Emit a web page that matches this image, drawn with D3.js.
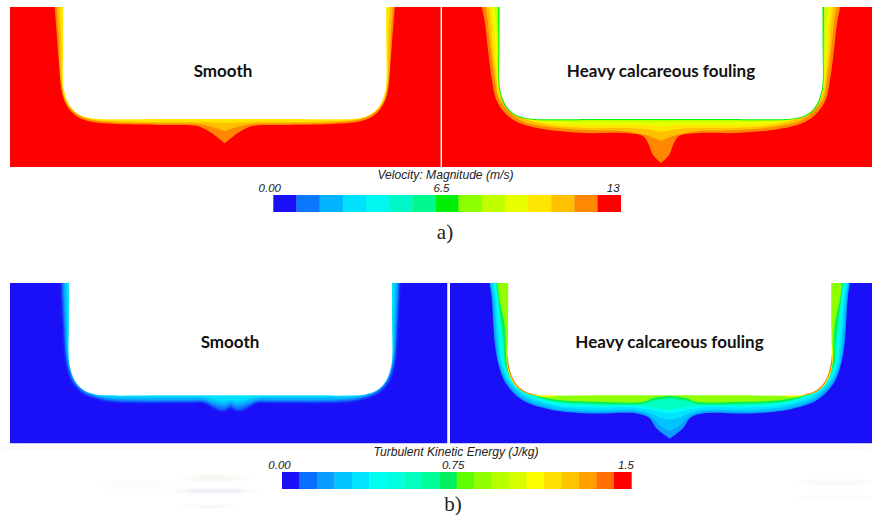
<!DOCTYPE html>
<html>
<head>
<meta charset="utf-8">
<script src="https://cdn.jsdelivr.net/npm/d3@7"></script>
<style>
  html, body { margin: 0; padding: 0; background: #fff; }
  svg { display: block; }
  .legend-title, .legend-tick { font-family: "Liberation Sans", sans-serif; font-style: italic; fill: #222; }
  .case-label { font-family: Lato, sans-serif; font-weight: 700; fill: #111; }
  .part-label { font-family: "Liberation Serif", serif; fill: #222; }
</style>
</head>
<body>
<div id="chart"></div>
<script>
// Legend colours, one per contour band
const velocityColors = ["#1a10f8", "#0a78ff", "#00b4ff", "#00e0ff", "#00f8f0", "#00f8c8", "#00f890", "#00ee08",
                        "#8cff00", "#c0ff00", "#e8ff00", "#ffe600", "#ffc000", "#ff8800", "#ff0000"];
const tkeColors = ["#1a10f8", "#0a6eff", "#0a9cff", "#00c4ff", "#00e4ff", "#00fff0", "#00ffe0", "#00ffc0", "#00ff9a", "#00f060",
                   "#5cff00", "#90ff00", "#b8ff00", "#d8ff00", "#ffff00", "#ffe000", "#ffc400", "#ffa000", "#ff7000", "#ff0000"];

const velocityDomain = [0, 13];
const tkeDomain = [0, 1.5];
const velocityTicks = [0, 6.5, 13];
const tkeTicks = [0, 0.75, 1.5];
const velocityTickLabels = ["0.00", "6.5", "13"];
const tkeTickLabels = ["0.00", "0.75", "1.5"];

const caseNames = ["Smooth", "Heavy calcareous fouling"];

// Half sections: [distance from centreline, depth below the top of the field]
const hullProfile = [[161.5, 0], [161.6, 40], [161.8, 72], [160.5, 84], [156.4, 96], [151.4, 103], [144.7, 108], [136, 110.8], [126, 112], [60, 112], [0, 112]];

// a) velocity, smooth
const smoothVelocityLevels = [11.7, 10.8, 10.0];
const smoothVelocityContours = [
  [[170, 0], [169, 13], [167, 40], [165.4, 60], [164, 78], [161, 92], [155, 103], [147, 110], [135, 114.5], [108, 117], [58, 118], [28, 119], [15, 124.7], [5, 132.3], [0, 136.3]],
  [[168, 0], [166, 30], [165, 60], [163, 78], [160, 90], [153, 102], [145, 108.5], [133, 113], [108, 115.5], [58, 116.5], [28, 117], [14, 119.5], [0, 124]],
  [[165, 0], [163.5, 30], [163, 72], [161.5, 86], [158, 96], [152, 103.5], [145, 108.5], [135, 112], [100, 114.5], [30, 115], [0, 116]]
];

// a) velocity, heavy calcareous fouling
const foulingVelocityLevels = [11.7, 10.8, 10.0, 9.1, 8.2, 6.5];
const foulingVelocityContours = [
  [[179, 0], [176, 16], [173, 43], [169, 73], [165, 92], [157, 105], [144, 115], [118, 122], [75, 126], [38, 126], [18, 129], [13, 136], [8, 148], [0, 156]],
  [[175, 0], [173, 16], [170, 43], [166, 73], [163, 90], [154, 103], [139, 114], [112, 120], [75, 123], [38, 124], [25, 126], [12, 129], [0, 134]],
  [[172, 0], [170, 16], [168, 43], [164.5, 73], [162, 88], [152, 102], [136, 112], [112, 118], [75, 121], [38, 121], [18, 122], [0, 125]],
  [[169, 0], [167, 20], [165, 50], [163.5, 75], [160, 90], [151, 101.5], [135, 111], [112, 116], [75, 118], [20, 118], [0, 120]],
  [[166, 0], [164, 30], [163, 72], [161, 86], [156, 97.5], [149, 104], [138, 109.5], [122, 113], [75, 114.5], [0, 115]],
  [[163, 0], [162.6, 40], [162.6, 72], [161.4, 84.5], [157.4, 96.5], [152.2, 103.7], [145.4, 108.7], [136.6, 111.6], [126, 112.9], [60, 112.9], [0, 112.9]]
];

// b) turbulent kinetic energy, smooth
const smoothTkeLevels = [0.1125, 0.1875, 0.2625, 0.3375];
const smoothTkeContours = [
  [[169, 0], [167, 42], [165, 72], [162, 88], [157, 100], [147, 110], [136, 114.5], [120, 118], [44, 119], [27, 119], [17, 124], [9, 127], [4, 126], [0, 123]],
  [[167.5, 0], [165.5, 42], [164, 72], [161, 87], [156, 99], [146, 108.5], [134, 113], [117, 116.5], [44, 117.5], [27, 117.5], [17, 121], [6, 123.5], [0, 120]],
  [[166, 0], [164.5, 42], [163.2, 72], [160, 86], [155, 98], [146, 107], [133, 112.5], [117, 114.8], [44, 115.5], [27, 115.5], [16, 119], [5, 121], [0, 118]],
  [[164, 0], [163, 42], [162.5, 72], [160, 85], [155.5, 96.5], [148, 105], [138, 110.5], [122, 113], [30, 113.6], [17, 116], [5, 118], [0, 116]]
];

// b) turbulent kinetic energy, heavy calcareous fouling
const foulingTkeLevels = [0.1875, 0.2625, 0.3375, 0.4125, 0.5625, 0.7125, 0.8625, 1.0875, 1.3, 1.3875];
const foulingTkeContours = [
  [[180, 0], [178, 15], [175, 59], [171, 82], [164, 100], [147, 117], [120, 126], [80, 130], [33, 130], [21, 134], [13, 145], [0, 155]],
  [[179, 0], [177, 15], [173.5, 59], [170, 82], [162, 100], [145, 116], [118, 125], [80, 128.5], [33, 128.5], [21, 132], [10, 142], [0, 148]],
  [[178, 0], [175.5, 15], [172, 59], [168.5, 82], [160, 100], [142, 115], [115, 123], [76, 126.5], [33, 126.5], [21, 129], [10, 134], [0, 136]],
  [[176, 0], [174, 15], [170, 59], [167, 82], [158, 100], [140, 114], [113, 121.5], [73, 124], [33, 124], [21, 126], [0, 130]],
  [[174, 0], [172, 15], [168, 59], [165.5, 82], [156, 100], [137, 113], [113, 119.5], [73, 122], [30, 122], [16, 124], [0, 126]],
  [[173, 0], [171.5, 15], [166, 59], [164, 82], [155, 99], [135, 112.5], [113, 118.5], [73, 120.5], [28, 120.5], [17, 117.5], [0, 115]],
  [[172, 0], [170.5, 15], [165, 42], [163.5, 70], [162, 84], [154, 99], [136, 111], [113, 116.5], [73, 118.5], [26, 118.5], [17, 115], [0, 112.5]],
  [[158, 40], [163, 68], [162, 85], [158, 97], [151, 105.5], [141, 110.5], [125, 113.5], [113, 112.5], [100, 106], [0, 100]],
  [[158, 66], [162.5, 74], [161.4, 85], [157.4, 96.8], [152.2, 104], [145.4, 109], [134, 112], [122, 108], [100, 102], [0, 100]],
  [[158, 74], [162, 78], [161, 85], [157, 96.4], [151.9, 103.5], [145.2, 108.5], [137, 110.5], [125, 104], [0, 100]]
];

// Scan residue under the lower row of the source image, not data
const residueBoxes = [[0, 445, 872, 5, "#fbf8f6"], [185, 489, 60, 4, "#efeaf3"], [190, 475, 48, 6, "#f8f6f1"], [190, 505, 40, 3, "#f9f6f0"],
                      [105, 480, 60, 9, "#fcfbfa"], [800, 480, 72, 5, "#faf9f7"], [805, 496, 67, 3, "#f9f8fb"]];

const width = 872, height = 515;

const svg = d3.select("#chart").append("svg")
    .attr("width", width)
    .attr("height", height);

const defs = svg.append("defs");

// The source is a soft, resampled screenshot
[["soft", "0.5"], ["medium", "0.7"], ["softer", "0.9"], ["smear", "10 1.2"]].forEach(d => {
    defs.append("filter")
        .attr("id", d[0])
        .attr("filterUnits", "userSpaceOnUse")
        .attr("x", 0).attr("y", 0)
        .attr("width", width).attr("height", height)
        .append("feGaussianBlur")
        .attr("stdDeviation", d[1]);
});

svg.append("g")
    .attr("filter", "url(#smear)")
    .selectAll("rect")
    .data(residueBoxes)
    .enter()
    .append("rect")
    .attr("x", d => d[0])
    .attr("y", d => d[1])
    .attr("width", d => d[2])
    .attr("height", d => d[3])
    .attr("fill", d => d[4]);

const velocityScale = d3.scaleQuantize().domain(velocityDomain).range(velocityColors);
const tkeScale = d3.scaleQuantize().domain(tkeDomain).range(tkeColors);

// Mirror a half section into a full outline, left side first
const outline = profile => {
    const left = profile.map(p => [-p[0], p[1]]);
    const right = profile.slice().reverse();
    return [[left[0][0], left[0][1] - 8], ...left, ...right, [right[right.length - 1][0], right[right.length - 1][1] - 8]];
};

function drawField(o) {
    const x = d3.scaleLinear().domain([-200, 200]).range([o.centre - 200, o.centre + 200]);
    const y = d3.scaleLinear().domain([0, 160]).range([o.top, o.bottom]);

    const line = d3.line()
        .x(d => x(d[0]))
        .y(d => y(d[1]))
        .curve(d3.curveCatmullRom.alpha(0.5));

    const clipId = "clip-" + o.id;
    defs.append("clipPath").attr("id", clipId)
        .append("rect")
        .attr("x", o.left)
        .attr("y", o.top)
        .attr("width", o.right - o.left)
        .attr("height", o.bottom - o.top);

    const g = svg.append("g").attr("clip-path", `url(#${clipId})`);

    g.append("rect")
        .attr("x", o.left)
        .attr("y", o.top)
        .attr("width", o.right - o.left)
        .attr("height", o.bottom - o.top)
        .attr("fill", o.color(o.background));

    g.append("g")
        .attr("filter", `url(#${o.blur})`)
        .selectAll("path")
        .data(o.contours)
        .enter()
        .append("path")
        .attr("d", d => line(outline(d)))
        .attr("fill", (d, i) => o.color(o.levels[i]));

    g.append("path")
        .attr("d", line(outline(hullProfile)))
        .attr("fill", "#fff")
        .attr("filter", "url(#soft)");

    svg.append("text")
        .attr("class", "case-label")
        .attr("x", o.labelX)
        .attr("y", o.labelY)
        .attr("text-anchor", "middle")
        .attr("font-size", 17)
        .text(o.label);
}

drawField({id: "a1", left: 10, right: 441, top: 7, bottom: 167, centre: 224.7, color: velocityScale, background: 12.8,
           levels: smoothVelocityLevels, contours: smoothVelocityContours, blur: "soft", label: caseNames[0], labelX: 223, labelY: 76.5});
drawField({id: "a2", left: 442, right: 872, top: 7, bottom: 167, centre: 661, color: velocityScale, background: 12.8,
           levels: foulingVelocityLevels, contours: foulingVelocityContours, blur: "soft", label: caseNames[1], labelX: 661, labelY: 76.5});
drawField({id: "b1", left: 10, right: 447.5, top: 283, bottom: 443.5, centre: 230.5, color: tkeScale, background: 0.01,
           levels: smoothTkeLevels, contours: smoothTkeContours, blur: "softer", label: caseNames[0], labelX: 230, labelY: 348});
drawField({id: "b2", left: 450, right: 872, top: 283, bottom: 443.5, centre: 669.7, color: tkeScale, background: 0.01,
           levels: foulingTkeLevels, contours: foulingTkeContours, blur: "medium", label: caseNames[1], labelX: 669.5, labelY: 348});

function drawLegend(o) {
    const x = d3.scaleLinear().domain(o.domain).range(o.range);
    const n = o.colors.length;
    const step = (o.domain[1] - o.domain[0]) / n;

    const g = svg.append("g");

    g.selectAll("rect")
        .data(o.colors)
        .enter()
        .append("rect")
        .attr("x", (d, i) => x(i * step))
        .attr("y", o.y)
        .attr("width", (d, i) => x((i + 1) * step) - x(i * step) + 0.3)
        .attr("height", o.h)
        .attr("fill", d => d);

    // Ticks carry labels only, shifted left the way the solver's legend does it
    const axis = g.append("g")
        .attr("transform", `translate(0, ${o.tickY})`)
        .call(d3.axisTop(x).tickValues(o.ticks).tickSize(0).tickPadding(0)
            .tickFormat((d, i) => o.tickLabels[i]));
    axis.select(".domain").remove();
    axis.selectAll("text")
        .attr("class", "legend-tick")
        .attr("font-size", 11.5)
        .attr("font-family", null)
        .attr("dy", 0)
        .attr("dx", (d, i) => o.tickShift[i]);

    g.append("text")
        .attr("class", "legend-title")
        .attr("x", o.titleX)
        .attr("y", o.titleY)
        .attr("text-anchor", "middle")
        .attr("font-size", 12.1)
        .text(o.title);

    g.append("text")
        .attr("class", "part-label")
        .attr("x", o.partX)
        .attr("y", o.partY)
        .attr("text-anchor", "middle")
        .attr("font-size", 21)
        .text(o.part);
}

drawLegend({domain: velocityDomain, range: [273.3, 620.7], colors: velocityColors, ticks: velocityTicks, tickLabels: velocityTickLabels,
            tickShift: [-4, -6, -8], y: 195, h: 17, tickY: 192.4, title: "Velocity: Magnitude (m/s)", titleX: 445.5, titleY: 179,
            part: "a)", partX: 445, partY: 239});
drawLegend({domain: tkeDomain, range: [282, 631.4], colors: tkeColors, ticks: tkeTicks, tickLabels: tkeTickLabels,
            tickShift: [-3, -4, -6], y: 472, h: 17, tickY: 468.5, title: "Turbulent Kinetic Energy (J/kg)", titleX: 456, titleY: 456,
            part: "b)", partX: 453, partY: 511});

// Divider between the two fields of each row
svg.append("rect").attr("x", 440.6).attr("y", 7).attr("width", 1.4).attr("height", 160).attr("fill", "#fff");
</script>
</body>
</html>
